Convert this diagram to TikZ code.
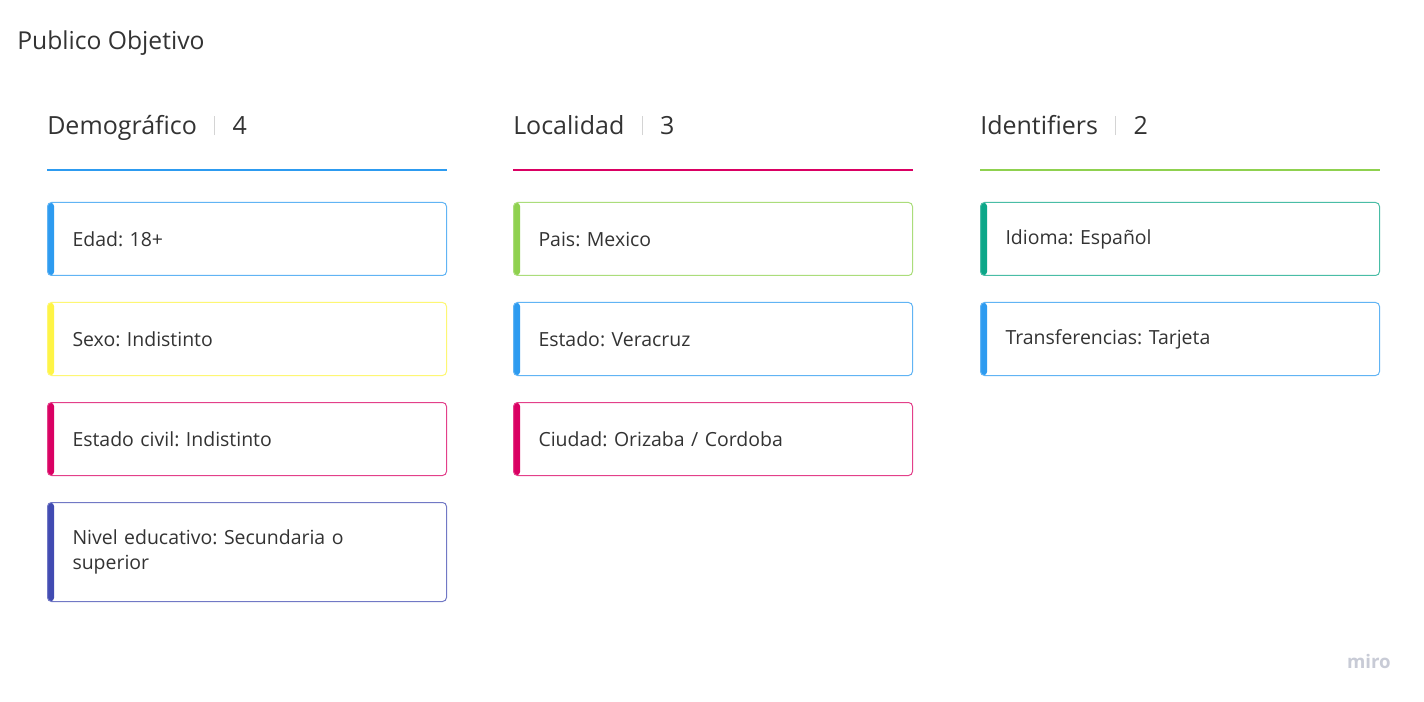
\documentclass[tikz,border=0pt]{standalone}
\usepackage{fontspec}
\setmainfont{Open Sans}
\usepackage{xcolor}
\definecolor{MiroBlue}{HTML}{2D9BF0}
\definecolor{MiroYellow}{HTML}{FEF445}
\definecolor{MiroMagenta}{HTML}{DA0063}
\definecolor{MiroIndigo}{HTML}{414BB2}
\definecolor{MiroGreen}{HTML}{8FD14F}
\definecolor{MiroTeal}{HTML}{0CA789}
\definecolor{TextDark}{HTML}{333333}
\definecolor{SepGray}{HTML}{D4D4D4}
\definecolor{LogoGray}{HTML}{C8CBD6}
\usepackage{tikz}
\usetikzlibrary{positioning}
\frenchspacing
\tikzset{
  % Card styles
  cardbox/.style={rectangle, rounded corners=3pt, draw=#1!75, line width=0.75pt, fill=white,
    minimum width=299.25pt, minimum height=54.75pt, inner xsep=18.75pt, inner ysep=0pt,
    text width=261.75pt, align=left, text=TextDark,
    font=\fontsize{14.6}{18.75}\selectfont,
    path picture={\fill[#1] (path picture bounding box.north west) rectangle ([xshift=5pt]path picture bounding box.south west);}},
  % Header styles
  headtext/.style={anchor=base west, inner sep=0pt, text=TextDark, font=\fontsize{18.75}{22}\selectfont},
  headline/.style={line width=1.5pt},
  titletext/.style={anchor=base west, inner sep=0pt, text=TextDark, font=\fontsize{18.5}{22}\selectfont}
}
\newcommand{\countsep}{\hspace{13pt}{\color{SepGray}\rule[-0.5pt]{0.75pt}{14pt}}\hspace{13pt}}

\begin{document}
\begin{tikzpicture}[x=0.75pt, y=-0.75pt]
  \fill[white] (0,0) rectangle (1424,702);
  \useasboundingbox (0,0) rectangle (1424,702);

  % Title
  \node[titletext] (title) at (17,50) {Publico Objetivo};

  % Demografico column
  \node[headtext] (demog) at (47,134.5) {Demográfico\countsep 4};
  \node[cardbox=MiroBlue, anchor=north west] (edad) at (47,202) {Edad: 18+};
  \node[cardbox=MiroYellow, below=19.5pt of edad] (sexo) {Sexo: Indistinto};
  \node[cardbox=MiroMagenta, below=19.5pt of sexo] (civil) {Estado civil: Indistinto};
  \node[cardbox=MiroIndigo, minimum height=74.25pt, below=19.5pt of civil] (nivel) {Nivel educativo: Secundaria o\\superior};
  \draw[headline, MiroBlue] ([yshift=24pt]edad.north west) -- ([yshift=24pt]edad.north east);

  % Localidad column
  \node[headtext] (local) at (513,134.5) {Localidad\countsep 3};
  \node[cardbox=MiroGreen, anchor=north west] (pais) at (513,202) {Pais: Mexico};
  \node[cardbox=MiroBlue, below=19.5pt of pais] (estado) {Estado: Veracruz};
  \node[cardbox=MiroMagenta, below=19.5pt of estado] (ciudad) {Ciudad: Orizaba / Cordoba};
  \draw[headline, MiroMagenta] ([yshift=24pt]pais.north west) -- ([yshift=24pt]pais.north east);

  % Identifiers column
  \node[headtext] (ident) at (980,134.5) {Identifiers\countsep 2};
  \node[cardbox=MiroTeal, anchor=north west] (idioma) at (980,202) {Idioma: Español};
  \node[cardbox=MiroBlue, below=19.5pt of idioma] (transf) {Transferencias: Tarjeta};
  \draw[headline, MiroGreen] ([yshift=24pt]idioma.north west) -- ([yshift=24pt]idioma.north east);

  % Logo
  \node[anchor=east, inner sep=0pt, text=LogoGray, font=\fontsize{14}{16}\selectfont\bfseries] (logo) at (1391,661) {miro};
\end{tikzpicture}
\end{document}
